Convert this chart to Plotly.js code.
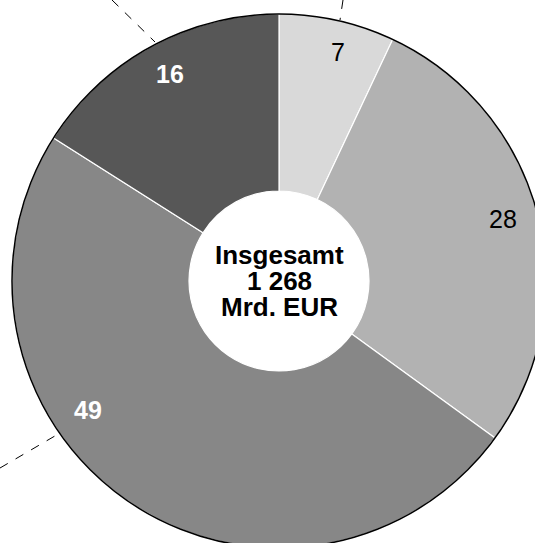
<!DOCTYPE html>
<html>
<head>
<meta charset="utf-8">
<script src="https://cdn.plot.ly/plotly-3.0.1.min.js"></script>
<style>
html,body{margin:0;padding:0;overflow:hidden;background:#fff;width:535px;height:543px;}
#chart{position:absolute;left:0;top:0;width:560px;height:560px;}
</style>
</head>
<body>
<div id="chart"></div>
<script>
// Data
const shares = [7, 28, 49, 16];
const sliceLabels = ["7", "28", "49", "16"];
const sliceColors = ["#d9d9d9", "#b2b2b2", "#878787", "#575757"];
const labelColors = ["#000000", "#000000", "#ffffff", "#ffffff"];
const labelWeights = ["normal", "normal", "bold", "bold"];
const centerLines = ["Insgesamt", "1 268", "Mrd. EUR"];

// Layout helpers (pixel -> paper in a 560x560 canvas)
const W = 560, H = 560;
const px = x => x / W;
const py = y => 1 - y / H;
const cx = 279, cy = 281, R = 267, HOLE_R = 90;

// Label pixel positions (layout only)
const labelPos = [[338, 52], [503, 219], [88, 410], [170, 74]];

const trace = {
  type: "pie",
  values: shares,
  labels: sliceLabels,
  sort: false,
  direction: "clockwise",
  rotation: 0,
  hole: HOLE_R / R,
  textinfo: "none",
  hoverinfo: "none",
  showlegend: false,
  marker: { colors: sliceColors, line: { color: "#ffffff", width: 1.2 } },
  domain: { x: [px(cx - R), px(cx + R)], y: [py(cy + R), py(cy - R)] }
};

const annotations = sliceLabels.map((t, i) => ({
  text: t, xref: "paper", yref: "paper",
  x: px(labelPos[i][0]), y: py(labelPos[i][1]),
  xanchor: "center", yanchor: "middle", showarrow: false,
  font: { family: "Liberation Sans, Arial, sans-serif", size: 25, color: labelColors[i], weight: labelWeights[i] }
}));
centerLines.forEach((t, i) => {
  annotations.push({
    text: "<b>" + t + "</b>", xref: "paper", yref: "paper",
    x: px(cx), y: py(255 + i * 26),
    xanchor: "center", yanchor: "middle", showarrow: false,
    font: { family: "Liberation Sans, Arial, sans-serif", size: 26, color: "#000000" }
  });
});

const dashed = [[112, 0, 155, 42], [343, 0, 340, 20], [0, 468, 60, 433]];
const shapes = dashed.map(d => ({
  type: "line", xref: "paper", yref: "paper",
  x0: px(d[0]), y0: py(d[1]), x1: px(d[2]), y1: py(d[3]),
  line: { color: "#000000", width: 1, dash: "dash" }
}));
shapes.push({
  type: "circle", xref: "paper", yref: "paper",
  x0: px(cx - R), x1: px(cx + R), y0: py(cy + R), y1: py(cy - R),
  line: { color: "#000000", width: 1.5 }, fillcolor: "rgba(0,0,0,0)"
});

Plotly.newPlot("chart", [trace], {
  width: W, height: H,
  margin: { l: 0, r: 0, t: 0, b: 0 },
  paper_bgcolor: "#ffffff",
  annotations: annotations,
  shapes: shapes
}, { staticPlot: true, displayModeBar: false });
</script>
</body>
</html>
